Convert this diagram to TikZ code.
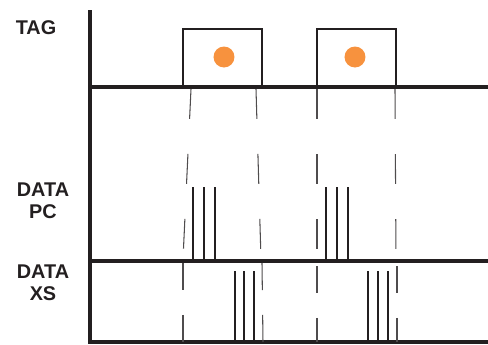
\documentclass[tikz,border=0pt]{standalone}
\usepackage{fontspec}
\setmainfont{Liberation Sans}
\usetikzlibrary{positioning}
\definecolor{ink}{HTML}{231F20}
\definecolor{dot}{HTML}{F7923E}
\begin{document}
\begin{tikzpicture}[
  x=0.02cm, y=-0.02cm,
  lbl/.style={font=\fontsize{11.3}{12.6}\selectfont\bfseries, align=center, text=ink},
  axis/.style={draw=ink, line width=2.2pt},
  tagbox/.style={draw=ink, line width=1.4pt},
  pulse/.style={draw=ink, line width=1.7pt},
  guide/.style={draw=ink!80, line width=0.6pt, dash pattern=on 17pt off 20pt},
  guidexs/.style={draw=ink!80, line width=0.6pt, dash pattern=on 15.5pt off 14pt}
]
\useasboundingbox (0,0) rectangle (488,345);

% -------------------------------------------------
% Row positions
% -------------------------------------------------
\def\yTop{10}
\def\yTag{87}
\def\yPC{261}
\def\yXS{342}

% -------------------------------------------------
% LABELS
% -------------------------------------------------
\node[lbl] (tag) at (36,28) {TAG};
\node[lbl] (pc) at (43,201) {DATA\\PC};
\node[lbl] (xs) at (43,283) {DATA\\XS};

% -------------------------------------------------
% AXES
% -------------------------------------------------
\coordinate (o) at (90,\yXS);
\draw[axis] (90,\yTop) -- (o) -- (488,\yXS);
\draw[axis] (90,\yTag) -- (488,\yTag);
\draw[axis] (90,\yPC) -- (488,\yPC);

% -------------------------------------------------
% TAG pulses
% -------------------------------------------------
\draw[tagbox] (183,\yTag) -- (183,29) -- (262,29) -- (262,\yTag);
\draw[tagbox] (317,\yTag) -- (317,29) -- (396,29) -- (396,\yTag);
\fill[dot] (224,57) circle (10.5);
\fill[dot] (355,57) circle (10.5);

% -------------------------------------------------
% Guide lines
% -------------------------------------------------
\draw[guide] (191,89) -- (183,259);
\draw[guide] (256,89) -- (261,259);
\draw[guide] (317,89) -- (317,259);
\draw[guide] (395,89) -- (396,259);

\draw[guidexs] (183,263) -- (183,342);
\draw[guidexs] (262,263) -- (263,342);
\draw[guidexs] (317,266) -- (317,342);
\draw[guidexs] (397,266) -- (397,342);

% -------------------------------------------------
% DATA PC / DATA XS pulses
% -------------------------------------------------
\foreach \x in {193,204,215,326,337,348}
  \draw[pulse] (\x,187) -- (\x,\yPC);
\foreach \x in {235,244,254,368,378,388}
  \draw[pulse] (\x,271) -- (\x,\yXS);

\end{tikzpicture}
\end{document}
